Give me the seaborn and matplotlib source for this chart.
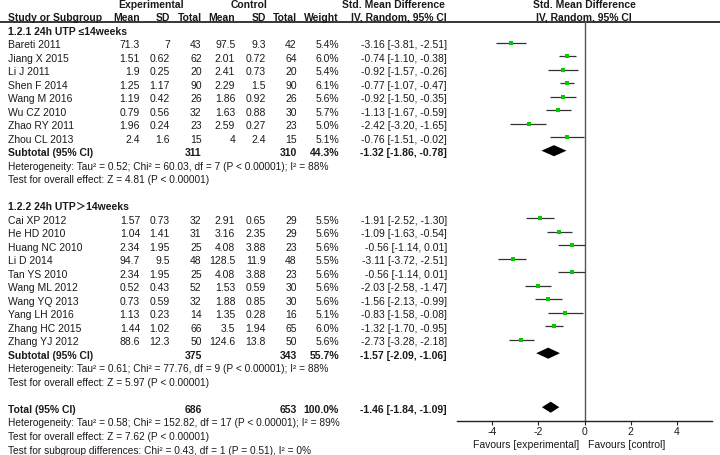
import numpy as np
import pandas as pd
import matplotlib
matplotlib.use("Agg")
import matplotlib.pyplot as plt
import seaborn as sns

# ---------------- data ----------------
group1_label = "1.2.1 24h UTP \u226414weeks"
studies1 = ["Bareti 2011", "Jiang X 2015", "Li J 2011", "Shen F 2014", "Wang M 2016",
            "Wu CZ 2010", "Zhao RY 2011", "Zhou CL 2013"]
exp_mean1 = [71.3, 1.51, 1.9, 1.25, 1.19, 0.79, 1.96, 2.4]
exp_sd1 = [7, 0.62, 0.25, 1.17, 0.42, 0.56, 0.24, 1.6]
exp_n1 = [43, 62, 20, 90, 26, 32, 23, 15]
ctl_mean1 = [97.5, 2.01, 2.41, 2.29, 1.86, 1.63, 2.59, 4]
ctl_sd1 = [9.3, 0.72, 0.73, 1.5, 0.92, 0.88, 0.27, 2.4]
ctl_n1 = [42, 64, 20, 90, 26, 30, 23, 15]
weight1 = [5.4, 6.0, 5.4, 6.1, 5.6, 5.7, 5.0, 5.1]
smd1 = [-3.16, -0.74, -0.92, -0.77, -0.92, -1.13, -2.42, -0.76]
lo1 = [-3.81, -1.10, -1.57, -1.07, -1.50, -1.67, -3.20, -1.51]
hi1 = [-2.51, -0.38, -0.26, -0.47, -0.35, -0.59, -1.65, -0.02]
sub1 = dict(exp_n=311, ctl_n=310, weight=44.3, smd=-1.32, lo=-1.86, hi=-0.78)
het1 = "Heterogeneity: Tau\u00b2 = 0.52; Chi\u00b2 = 60.03, df = 7 (P < 0.00001); I\u00b2 = 88%"
eff1 = "Test for overall effect: Z = 4.81 (P < 0.00001)"

group2_label = "1.2.2 24h UTP\uff1e14weeks"
studies2 = ["Cai XP 2012", "He HD 2010", "Huang NC 2010", "Li D 2014", "Tan YS 2010",
            "Wang ML 2012", "Wang YQ 2013", "Yang LH 2016", "Zhang HC 2015", "Zhang YJ 2012"]
exp_mean2 = [1.57, 1.04, 2.34, 94.7, 2.34, 0.52, 0.73, 1.13, 1.44, 88.6]
exp_sd2 = [0.73, 1.41, 1.95, 9.5, 1.95, 0.43, 0.59, 0.23, 1.02, 12.3]
exp_n2 = [32, 31, 25, 48, 25, 52, 32, 14, 66, 50]
ctl_mean2 = [2.91, 3.16, 4.08, 128.5, 4.08, 1.53, 1.88, 1.35, 3.5, 124.6]
ctl_sd2 = [0.65, 2.35, 3.88, 11.9, 3.88, 0.59, 0.85, 0.28, 1.94, 13.8]
ctl_n2 = [29, 29, 23, 48, 23, 30, 30, 16, 65, 50]
weight2 = [5.5, 5.6, 5.6, 5.5, 5.6, 5.6, 5.6, 5.1, 6.0, 5.6]
smd2 = [-1.91, -1.09, -0.56, -3.11, -0.56, -2.03, -1.56, -0.83, -1.32, -2.73]
lo2 = [-2.52, -1.63, -1.14, -3.72, -1.14, -2.58, -2.13, -1.58, -1.70, -3.28]
hi2 = [-1.30, -0.54, 0.01, -2.51, 0.01, -1.47, -0.99, -0.08, -0.95, -2.18]
sub2 = dict(exp_n=375, ctl_n=343, weight=55.7, smd=-1.57, lo=-2.09, hi=-1.06)
het2 = "Heterogeneity: Tau\u00b2 = 0.61; Chi\u00b2 = 77.76, df = 9 (P < 0.00001); I\u00b2 = 88%"
eff2 = "Test for overall effect: Z = 5.97 (P < 0.00001)"

total = dict(exp_n=686, ctl_n=653, weight=100.0, smd=-1.46, lo=-1.84, hi=-1.09)
het_t = "Heterogeneity: Tau\u00b2 = 0.58; Chi\u00b2 = 152.82, df = 17 (P < 0.00001); I\u00b2 = 89%"
eff_t = "Test for overall effect: Z = 7.62 (P < 0.00001)"
sub_t = "Test for subgroup differences: Chi\u00b2 = 0.43, df = 1 (P = 0.51), I\u00b2 = 0%"

x_ticks = [-4, -2, 0, 2, 4]
fav_left = "Favours [experimental]"
fav_right = "Favours [control]"

# ---------------- style ----------------
sns.set_style("white")
plt.rcParams['font.family'] = ['Liberation Sans', 'Noto Sans CJK SC', 'DejaVu Sans']
plt.rcParams['axes.unicode_minus'] = False
FS = 7.5
FS_NOTE = 7.3
TXT = '#1a1a1a'

W, H = 720, 455
fig = plt.figure(figsize=(7.2, 4.55), dpi=100)
tax = fig.add_axes([0, 0, 1, 1])
tax.set_xlim(0, W)
tax.set_ylim(H, 0)
tax.axis('off')

ROW0, DY = 29.2, 13.5
def ymark(r):
    return ROW0 + DY * r
def ybase(r):
    return ymark(r) + 5.4

def put(x, y, s, ha='left', bold=False, fs=FS):
    tax.text(x, y, s, ha=ha, va='baseline', fontsize=fs, color=TXT,
             fontweight='bold' if bold else 'normal', clip_on=False)

COL = dict(exp_mean=140, exp_sd=170, exp_n=201.7, ctl_mean=235.3, ctl_sd=265.7,
           ctl_n=296.7, weight=339, smd=447)
NAME_X = 8

# header
put(151, 8.0, "Experimental", ha='center', bold=True)
put(249.5, 8.0, "Control", ha='center', bold=True)
put(445, 8.0, "Std. Mean Difference", ha='right', bold=True)
put(584, 8.0, "Std. Mean Difference", ha='center', bold=True)
hy = 20.6
put(NAME_X, hy, "Study or Subgroup", bold=True)
for key, lab in [('exp_mean', 'Mean'), ('exp_sd', 'SD'), ('exp_n', 'Total'),
                 ('ctl_mean', 'Mean'), ('ctl_sd', 'SD'), ('ctl_n', 'Total'),
                 ('weight', 'Weight'), ('smd', 'IV, Random, 95% CI')]:
    put(COL[key], hy, lab, ha='right', bold=True)
put(584, hy, "IV, Random, 95% CI", ha='center', bold=True)
tax.plot([0, W], [22.4, 22.4], color='black', lw=1.1, solid_capstyle='butt')

def fmt_ci(e, l, h):
    return f"{e:.2f} [{l:.2f}, {h:.2f}]"

rows = []
def study_block(start, names, em, es, en, cm, cs, cn, wt, e, l, h):
    for i, nm in enumerate(names):
        r = start + i
        y = ybase(r)
        put(NAME_X, y, nm)
        put(COL['exp_mean'], y, f"{em[i]:g}", ha='right')
        put(COL['exp_sd'], y, f"{es[i]:g}", ha='right')
        put(COL['exp_n'], y, f"{en[i]}", ha='right')
        put(COL['ctl_mean'], y, f"{cm[i]:g}", ha='right')
        put(COL['ctl_sd'], y, f"{cs[i]:g}", ha='right')
        put(COL['ctl_n'], y, f"{cn[i]}", ha='right')
        put(COL['weight'], y, f"{wt[i]:.1f}%", ha='right')
        put(COL['smd'], y, fmt_ci(e[i], l[i], h[i]), ha='right')
        rows.append(dict(row=r, smd=e[i], lo=l[i], hi=h[i], weight=wt[i]))

def summary_row(r, label, d):
    y = ybase(r)
    put(NAME_X, y, label, bold=True)
    put(COL['exp_n'], y, f"{d['exp_n']}", ha='right', bold=True)
    put(COL['ctl_n'], y, f"{d['ctl_n']}", ha='right', bold=True)
    put(COL['weight'], y, f"{d['weight']:.1f}%", ha='right', bold=True)
    put(COL['smd'], y, fmt_ci(d['smd'], d['lo'], d['hi']), ha='right', bold=True)

put(NAME_X, ybase(0), group1_label, bold=True)
study_block(1, studies1, exp_mean1, exp_sd1, exp_n1, ctl_mean1, ctl_sd1, ctl_n1,
            weight1, smd1, lo1, hi1)
summary_row(9, "Subtotal (95% CI)", sub1)
put(NAME_X, ybase(10), het1, fs=FS_NOTE)
put(NAME_X, ybase(11), eff1, fs=FS_NOTE)

put(NAME_X, ybase(13), group2_label, bold=True)
study_block(14, studies2, exp_mean2, exp_sd2, exp_n2, ctl_mean2, ctl_sd2, ctl_n2,
            weight2, smd2, lo2, hi2)
summary_row(24, "Subtotal (95% CI)", sub2)
put(NAME_X, ybase(25), het2, fs=FS_NOTE)
put(NAME_X, ybase(26), eff2, fs=FS_NOTE)

summary_row(28, "Total (95% CI)", total)
put(NAME_X, ybase(29), het_t, fs=FS_NOTE)
put(NAME_X, ybase(30), eff_t, fs=FS_NOTE)
put(NAME_X, ybase(31) + 1.2, sub_t, fs=FS_NOTE)

df = pd.DataFrame(rows)
summ = pd.DataFrame([dict(row=9, **sub1), dict(row=24, **sub2), dict(row=28, **total)])

# ---------------- forest axes ----------------
L, R, T, B = 457.3, 711.7, 22.4, 421.0
fax = fig.add_axes([L / W, (H - B) / H, (R - L) / W, (B - T) / H])
fax.set_facecolor('none')

fax.axvline(0, color='#555555', lw=1.0, zorder=1)
fax.hlines(df['row'], df['lo'], df['hi'], color='#333333', lw=0.9, zorder=2)
sns.scatterplot(data=df, x='smd', y='row', marker='s', s=7, color='#00cc00',
                linewidth=0, ax=fax, zorder=3, legend=False)
for _, s in summ.iterrows():
    fax.fill([s['lo'], s['smd'], s['hi'], s['smd']],
             [s['row'], s['row'] - 0.41, s['row'], s['row'] + 0.41],
             color='black', lw=0, zorder=4)

fax.set_xlim(-5.5, 5.5)
fax.set_ylim((B - ROW0) / DY, (T - ROW0) / DY)
fax.set_xlabel('')
fax.set_ylabel('')
fax.set_yticks([])
fax.set_xticks(x_ticks)
fax.set_xticklabels([str(t) for t in x_ticks], fontsize=FS, color=TXT)
fax.tick_params(axis='x', bottom=True, direction='out', length=3, width=0.8,
                pad=1.5, color='#222222')
for sp in ['top', 'left', 'right']:
    fax.spines[sp].set_visible(False)
fax.spines['bottom'].set_color('#222222')
fax.spines['bottom'].set_linewidth(1.0)

put(579, 447.6, fav_left, ha='right')
put(588, 447.6, fav_right, ha='left')

fig.savefig("out.png", dpi=100)
